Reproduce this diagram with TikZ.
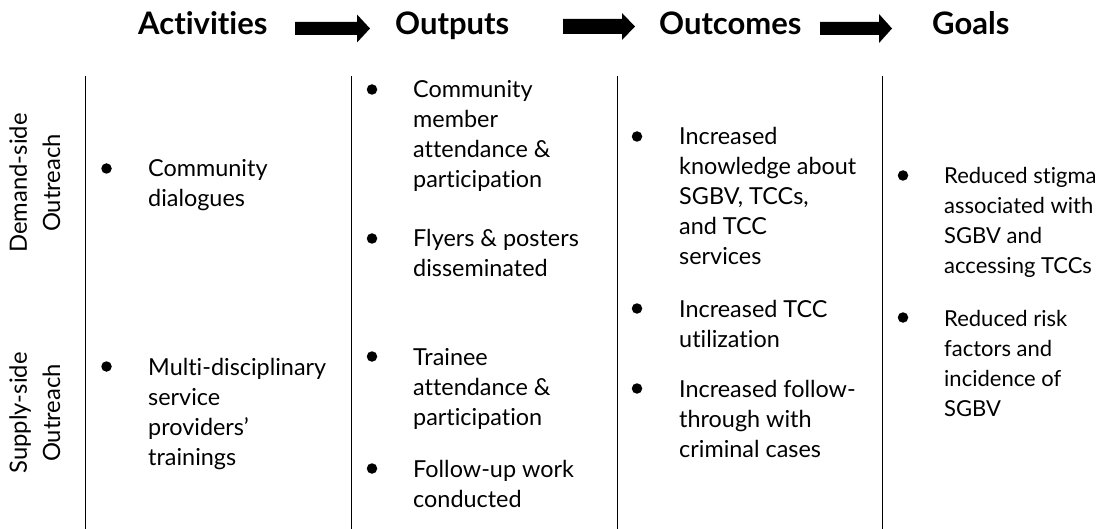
\documentclass[tikz,border=0pt]{standalone}
\usepackage{fontspec}
\setmainfont{Lato}[Ligatures={NoCommon,NoContextual}]
\newcommand\bodytext[2][23.4]{\parbox[t]{250pt}{\fontsize{#1}{30}\selectfont\raggedright #2}}
\newcommand\blockarrow[6]{\fill (#1,{#4-#5}) -- (#3,{#4-#5}) -- (#3,{#4-#6}) -- (#2,#4) -- (#3,{#4+#6}) -- (#3,{#4+#5}) -- (#1,{#4+#5}) -- cycle;}
\begin{document}
\begin{tikzpicture}[x=1pt,y=-1pt,
  head/.style={anchor=base west,inner sep=0pt,font=\fontsize{31}{34}\selectfont\bfseries},
  body/.style={anchor=base west,inner sep=0pt},
  bul/.style={circle,fill,inner sep=0pt,minimum size=10.5pt},
  side/.style={anchor=base,inner sep=0pt,rotate=90,font=\fontsize{23.8}{30}\selectfont},
  sep/.style={line width=0.9pt}]
\useasboundingbox (0,0) rectangle (1118,529);
% headers
\node[head] (hact) at (138,35) {Activities};
\node[head] (hout) at (395,35) {Outputs};
\node[head] (hocm) at (659,35) {Outcomes};
\node[head] (hgoal) at (932,35) {Goals};
\blockarrow{295}{370}{357}{28.5}{6.5}{14}
\blockarrow{563}{635}{622}{26.5}{7.5}{13.5}
\blockarrow{820}{892}{879}{28.5}{6.5}{14.5}
% separators
\foreach \x in {85,351.5,617,882} \draw[sep] (\x,76) -- (\x,529);
% side labels
\node[side] (ds1) at (27,183) {Demand-side};
\node[side] (ds2) at (60,183) {Outreach};
\node[side] (ss1) at (27,413) {Supply-side};
\node[side] (ss2) at (60,413) {Outreach};
% activities
\node[bul] (ba1) at (106.5,168.5) {};
\node[body] (a1) at (148,177) {\bodytext{Community\\dialogues}};
\node[bul] (ba2) at (106.5,366.5) {};
\node[body] (a2) at (148,375) {\bodytext{Multi-disciplinary\\service\\providers’\\trainings}};
% outputs
\node[bul] (bo1) at (372,89.5) {};
\node[body] (o1) at (413,98) {\bodytext{Community\\member\\attendance \&\\participation}};
\node[bul] (bo2) at (372,238.5) {};
\node[body] (o2) at (413,247) {\bodytext{Flyers \& posters\\disseminated}};
\node[bul] (bo3) at (372,356.5) {};
\node[body] (o3) at (413,365) {\bodytext{Trainee\\attendance \&\\participation}};
\node[bul] (bo4) at (372,468.5) {};
\node[body] (o4) at (413,477) {\bodytext{Follow-up work\\conducted}};
% outcomes
\node[bul] (bc1) at (637,136.5) {};
\node[body] (c1) at (679,145) {\bodytext{Increased\\knowledge about\\SGBV, TCCs,\\and TCC\\services}};
\node[bul] (bc2) at (637,308.5) {};
\node[body] (c2) at (679,317) {\bodytext{Increased TCC\\utilization}};
\node[bul] (bc3) at (637,388.5) {};
\node[body] (c3) at (679,397) {\bodytext{Increased follow-\\through with\\criminal cases}};
% goals
\node[bul] (bg1) at (903,175.5) {};
\node[body] (g1) at (944,184) {\bodytext[22]{Reduced stigma\\associated with\\SGBV and\\accessing TCCs}};
\node[bul] (bg2) at (903,317.5) {};
\node[body] (g2) at (944,326) {\bodytext[22]{Reduced risk\\factors and\\incidence of\\SGBV}};
\end{tikzpicture}
\end{document}
